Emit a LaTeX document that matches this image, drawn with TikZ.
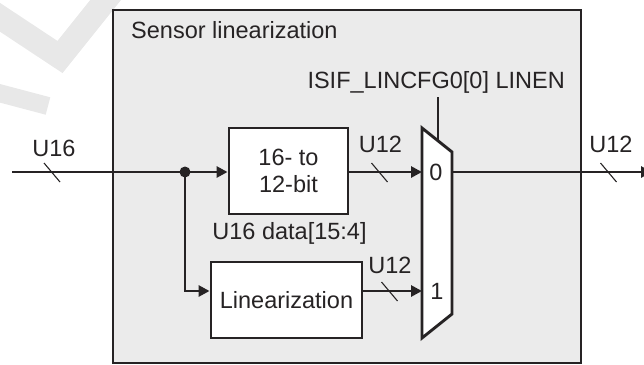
\documentclass[tikz,border=0pt]{standalone}
\usepackage{fontspec}
\setmainfont{Liberation Sans}
\usetikzlibrary{arrows.meta}
\definecolor{ink}{HTML}{262324}
\definecolor{panel}{HTML}{EBEBEB}
\definecolor{wmark}{HTML}{E8E8E8}
\tikzset{
  lbl/.style={inner sep=0pt, font=\fontsize{23.5}{27}\selectfont, text=ink},
  blockbox/.style={draw=ink, line width=2.9pt, fill=white, inner sep=0pt,
    font=\fontsize{23.5}{27}\selectfont, text=ink, align=center},
  wire/.style={draw=ink, line width=2.9pt},
  arw/.style={wire, -{Triangle[length=11pt,width=11pt]}},
  busmark/.style={draw=ink, line width=1.1pt},
}
\begin{document}
\begin{tikzpicture}[x=1pt,y=-1pt]
\useasboundingbox (0,0) rectangle (644,364);
% faint watermark fragments
\draw[wmark, line width=24pt, line join=miter] (-8,12) -- (60,57) -- (112,-8);
\draw[wmark, line width=18pt] (-5,92) -- (48,106);
% outer panel
\draw[draw=ink, fill=panel, line width=2.9pt] (113,10) rectangle (581,363);
\node[lbl, anchor=base west] (title) at (131,38) {Sensor linearization};
% blocks
\node[blockbox, minimum width=119pt, minimum height=86pt] (conv) at (288.5,171) {16- to\\12-bit};
\node[blockbox, minimum width=151pt, minimum height=76pt] (lin) at (286.5,300) {Linearization};
% mux
\coordinate (m1) at (422,128);
\coordinate (m2) at (452,152);
\coordinate (m3) at (452,314);
\coordinate (m4) at (422,338);
\draw[draw=ink, fill=white, line width=2.9pt, line join=miter] (m1) -- (m2) -- (m3) -- (m4) -- cycle;
\coordinate (muxin0) at (422,172);
\coordinate (muxin1) at (422,291);
\coordinate (muxout) at (452,172);
\coordinate (muxsel) at (438,140.8);
\coordinate (selsrc) at (438,97);
\node[lbl, anchor=base] (zero) at (436,180) {0};
\node[lbl, anchor=base] (one) at (437,299.5) {1};
% wires
\coordinate (inp) at (12,172);
\coordinate (split) at (185,172);
\coordinate (outp) at (652,172);
\draw[arw] (inp) -- (conv.west |- split);
\fill[ink] (split) circle (5.5pt);
\draw[arw] (split) |- (lin.west |- muxin1);
\draw[arw] (conv.east |- muxin0) -- (muxin0);
\draw[arw] (lin.east |- muxin1) -- (muxin1);
\draw[arw] (muxout) -- (outp);
\draw[wire] (selsrc) -- (muxsel);
% bus width marks
\foreach \n/\x/\y in {s1/52/172.5, s2/379.5/172.5, s3/389.5/291.5, s4/608.5/172.5}{
  \coordinate (\n) at (\x,\y);
  \draw[busmark] ([shift={(-8,-9.5)}]\n) -- ([shift={(8,9.5)}]\n);
}
% labels
\node[lbl, anchor=base] (u16) at (54,156) {U16};
\node[lbl, anchor=base] (u12a) at (380.5,152) {U12};
\node[lbl, anchor=base] (u12b) at (390,273) {U12};
\node[lbl, anchor=base] (u12c) at (611,152) {U12};
\node[lbl, anchor=base] (data) at (289.5,239) {U16 data[15:4]};
\node[lbl, anchor=base east] (sel) at (565,88) {ISIF\_LINCFG0[0] LINEN};
\end{tikzpicture}
\end{document}
